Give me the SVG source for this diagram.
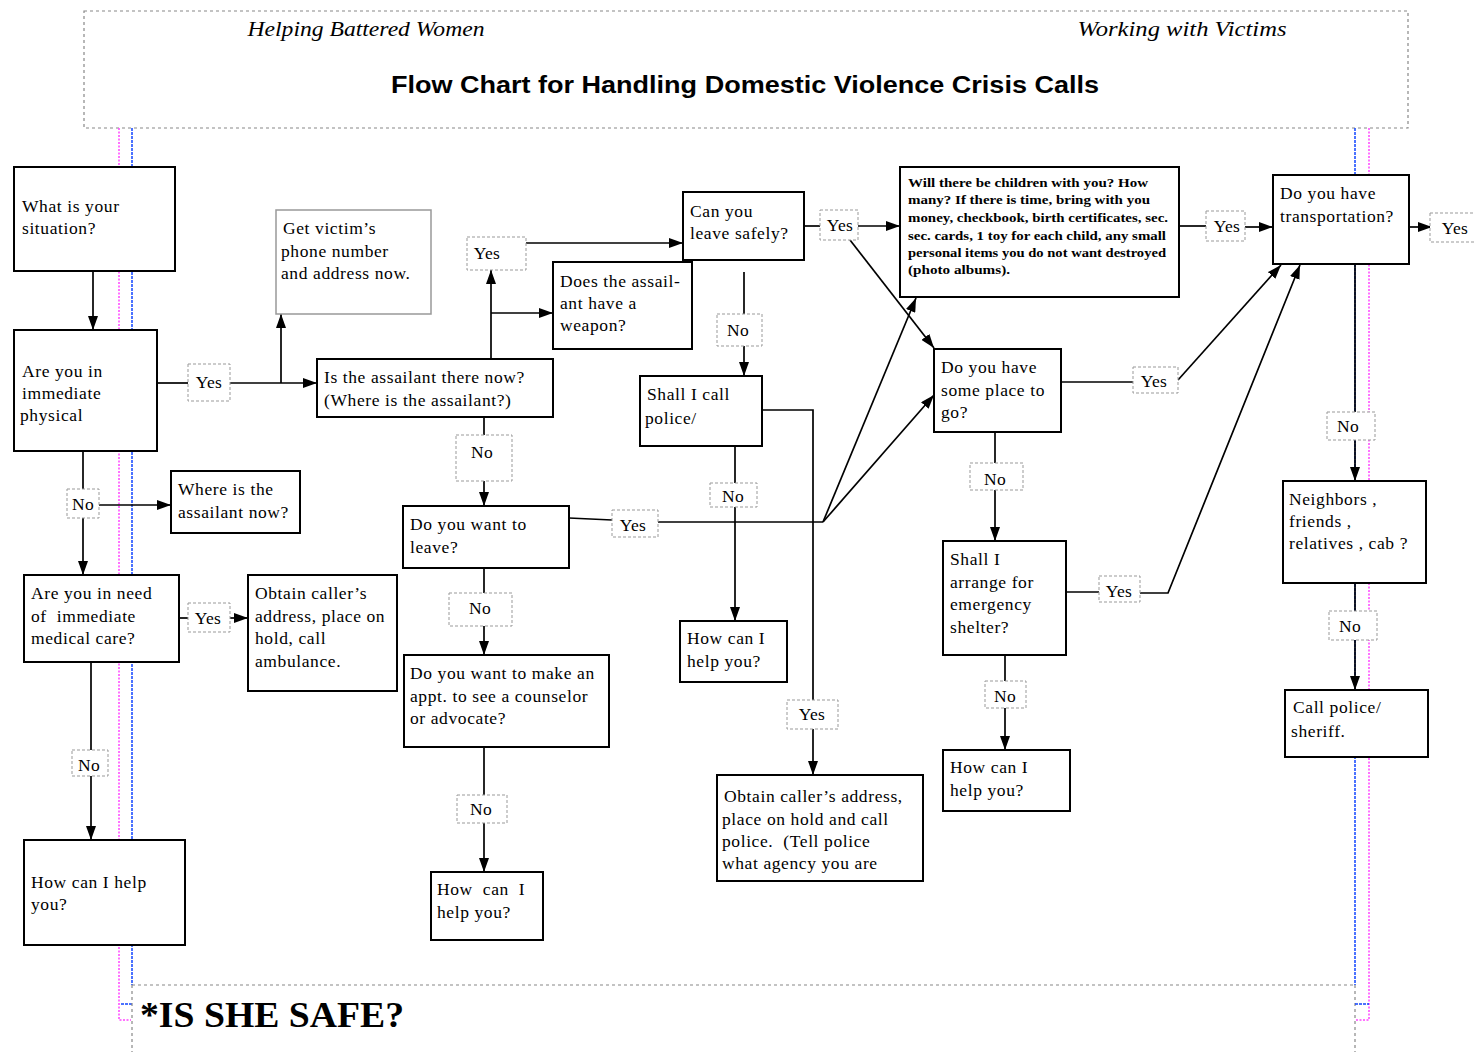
<svg xmlns="http://www.w3.org/2000/svg" width="1475" height="1052" viewBox="0 0 1475 1052">
<defs>
<marker id="ah" viewBox="0 0 14 10" refX="14" refY="5" markerWidth="14" markerHeight="10" markerUnits="userSpaceOnUse" orient="auto">
<path d="M0,0 L14,5 L0,10 Z" fill="#000"/>
</marker>
<style>
.bx{fill:#fff;stroke:#000;stroke-width:2}
.gb{fill:#fff;stroke:#999;stroke-width:1.5}
.lb{fill:#fff;stroke:#999;stroke-width:1;stroke-dasharray:3,2}
.t{font-family:"Liberation Serif","Times New Roman",serif;font-size:17.5px;letter-spacing:0.6px;fill:#000}
.lt{font-family:"Liberation Serif","Times New Roman",serif;font-size:17.5px;letter-spacing:0.3px;fill:#000;text-anchor:middle}
.sm{font-family:"Liberation Serif","Times New Roman",serif;font-size:11.5px;font-weight:bold;fill:#000}
.c path{fill:none;stroke:#000;stroke-width:1.7}
.a{marker-end:url(#ah)}
.mg{stroke:#ff44ff;stroke-width:1.5;stroke-dasharray:2,1.5;fill:none}
.bl{stroke:#1144ff;stroke-width:1.5;stroke-dasharray:3,1;fill:none}
.gd{stroke:#888;stroke-width:1.2;stroke-dasharray:3,3;fill:none}
</style>
</defs>
<rect width="1475" height="1052" fill="#fff"/>

<!-- page guides -->
<g id="guides">
<rect x="84" y="11" width="1324" height="117" class="gd"/>
<path class="mg" d="M119,128 V1020 H131"/>
<path class="bl" d="M132,128 V985"/>
<path class="bl" d="M121,1004 H132"/>
<path class="gd" d="M132,985 V1052 M132,985 H1355 M1355,985 V1052"/>
<path class="bl" d="M1355,128 V985"/>
<path class="mg" d="M1369,128 V1020 H1356"/>
<path class="bl" d="M1355,1004 H1369"/>
</g>

<g id="header">
<text x="366" y="36" font-family="'Liberation Serif',serif" font-style="italic" font-size="21" text-anchor="middle" textLength="237" lengthAdjust="spacingAndGlyphs">Helping Battered Women</text>
<text x="1182" y="36" font-family="'Liberation Serif',serif" font-style="italic" font-size="21" text-anchor="middle" textLength="209" lengthAdjust="spacingAndGlyphs">Working with Victims</text>
<text x="745" y="93" font-family="'Liberation Sans',Arial,sans-serif" font-weight="bold" font-size="23" text-anchor="middle" textLength="708" lengthAdjust="spacingAndGlyphs">Flow Chart for Handling Domestic Violence Crisis Calls</text>
</g>

<g id="connectors" class="c">
<path class="a" d="M93,271 V330"/>
<path d="M157,383 H188"/>
<path class="a" d="M230,383 H317"/>
<path class="a" d="M281,383 V314"/>
<path class="a" d="M491,359 V270"/>
<path class="a" d="M491,313 H553"/>
<path class="a" d="M526,243 H683"/>
<path d="M744,272 V314"/>
<path class="a" d="M744,346 V376"/>
<path d="M762,410 H813 V700"/>
<path class="a" d="M813,729 V775"/>
<path d="M735,446 V483"/>
<path class="a" d="M735,507 V621"/>
<path d="M804,226 H820"/>
<path class="a" d="M858,226 H900"/>
<path class="a" d="M850,240 L934,348"/>
<path d="M1179,226 H1206"/>
<path class="a" d="M1245,227 H1273"/>
<path class="a" d="M1409,227 H1432"/>
<path d="M1061,382 H1133"/>
<path class="a" d="M1178,380 L1281,265"/>
<path d="M995,432 V463"/>
<path class="a" d="M995,490 V541"/>
<path d="M1066,592 H1099"/>
<path class="a" d="M1140,593 H1168 L1300,265"/>
<path d="M1005,655 V681"/>
<path class="a" d="M1005,708 V750"/>
<path d="M484,417 V435"/>
<path class="a" d="M484,481 V506"/>
<path d="M569,518 L612,520"/>
<path d="M658,522 H823"/>
<path class="a" d="M823,522 L916,298"/>
<path class="a" d="M823,522 L934,395"/>
<path d="M484,568 V593"/>
<path class="a" d="M484,626 V655"/>
<path d="M484,747 V795"/>
<path class="a" d="M484,823 V872"/>
<path d="M83,451 V489"/>
<path class="a" d="M99,505 H171"/>
<path class="a" d="M83,518 V575"/>
<path d="M179,618 H188"/>
<path class="a" d="M230,618 H248"/>
<path d="M91,662 V750"/>
<path class="a" d="M91,776 V840"/>
<path d="M1355,264 V412"/>
<path class="a" d="M1355,440 V481"/>
<path d="M1355,583 V611"/>
<path class="a" d="M1355,640 V690"/>
</g>

<g id="labels">
<g id="y1"><rect class="lb" x="188" y="364" width="42" height="37"/><text class="lt" x="209" y="388">Yes</text></g>
<g id="y2"><rect class="lb" x="467" y="237" width="59" height="33"/><text class="lt" x="487" y="259">Yes</text></g>
<g id="y3"><rect class="lb" x="820" y="210" width="38" height="30"/><text class="lt" x="840" y="231">Yes</text></g>
<g id="y4"><rect class="lb" x="1206" y="211" width="39" height="30"/><text class="lt" x="1227" y="232">Yes</text></g>
<g id="y5"><rect class="lb" x="1430" y="213" width="50" height="29"/><text class="lt" x="1455" y="234">Yes</text></g>
<g id="y6"><rect class="lb" x="1133" y="367" width="45" height="26"/><text class="lt" x="1154" y="387">Yes</text></g>
<g id="y7"><rect class="lb" x="1099" y="576" width="41" height="26"/><text class="lt" x="1119" y="597">Yes</text></g>
<g id="y8"><rect class="lb" x="612" y="510" width="46" height="27"/><text class="lt" x="633" y="531">Yes</text></g>
<g id="y9"><rect class="lb" x="787" y="700" width="51" height="29"/><text class="lt" x="812" y="720">Yes</text></g>
<g id="y10"><rect class="lb" x="188" y="603" width="42" height="29"/><text class="lt" x="208" y="624">Yes</text></g>
<g id="n1"><rect class="lb" x="717" y="314" width="45" height="32"/><text class="lt" x="738" y="336">No</text></g>
<g id="n2"><rect class="lb" x="710" y="483" width="47" height="24"/><text class="lt" x="733" y="502">No</text></g>
<g id="n3"><rect class="lb" x="456" y="435" width="56" height="46"/><text class="lt" x="482" y="458">No</text></g>
<g id="n4"><rect class="lb" x="449" y="593" width="63" height="33"/><text class="lt" x="480" y="614">No</text></g>
<g id="n5"><rect class="lb" x="457" y="795" width="50" height="28"/><text class="lt" x="481" y="815">No</text></g>
<g id="n6"><rect class="lb" x="67" y="489" width="32" height="29"/><text class="lt" x="83" y="510">No</text></g>
<g id="n7"><rect class="lb" x="72" y="750" width="36" height="26"/><text class="lt" x="89" y="771">No</text></g>
<g id="n8"><rect class="lb" x="970" y="463" width="53" height="27"/><text class="lt" x="995" y="485">No</text></g>
<g id="n9"><rect class="lb" x="985" y="681" width="41" height="27"/><text class="lt" x="1005" y="702">No</text></g>
<g id="n10"><rect class="lb" x="1327" y="412" width="48" height="28"/><text class="lt" x="1348" y="432">No</text></g>
<g id="n11"><rect class="lb" x="1329" y="611" width="48" height="29"/><text class="lt" x="1350" y="632">No</text></g>
</g>

<g id="situation"><rect class="bx" x="14" y="167" width="161" height="104"/>
<text class="t" x="22" y="212">What is your</text><text class="t" x="22" y="234">situation?</text></g>

<g id="physical"><rect class="bx" x="14" y="330" width="143" height="121"/>
<text class="t" x="22" y="377">Are you in</text><text class="t" x="22" y="399">immediate</text><text class="t" x="20" y="421">physical</text></g>

<g id="getphone"><rect class="gb" x="276" y="210" width="155" height="104"/>
<text class="t" x="283" y="234">Get victim’s</text><text class="t" x="281" y="257">phone number</text><text class="t" x="281" y="279">and address now.</text></g>

<g id="assailantthere"><rect class="bx" x="317" y="359" width="236" height="58"/>
<text class="t" x="324" y="383">Is the assailant there now?</text><text class="t" x="324" y="406">(Where is the assailant?)</text></g>

<g id="weapon"><rect class="bx" x="553" y="262" width="139" height="87"/>
<text class="t" x="560" y="287">Does the assail-</text><text class="t" x="560" y="309">ant have a</text><text class="t" x="560" y="331">weapon?</text></g>

<g id="leavesafely"><rect class="bx" x="683" y="192" width="121" height="68"/>
<text class="t" x="690" y="217">Can you</text><text class="t" x="690" y="239">leave safely?</text></g>

<g id="callpolice"><rect class="bx" x="640" y="376" width="122" height="70"/>
<text class="t" x="647" y="400">Shall I call</text><text class="t" x="645" y="424">police/</text></g>

<g id="children"><rect class="bx" x="900" y="167" width="279" height="130"/>
<text class="sm" x="908" y="187" textLength="240" lengthAdjust="spacingAndGlyphs">Will there be children with you?  How</text>
<text class="sm" x="908" y="204" textLength="242" lengthAdjust="spacingAndGlyphs">many?  If there is time, bring with you</text>
<text class="sm" x="908" y="222" textLength="260" lengthAdjust="spacingAndGlyphs">money, checkbook, birth certificates, sec.</text>
<text class="sm" x="908" y="240" textLength="258" lengthAdjust="spacingAndGlyphs">sec. cards, 1 toy for each child, any small</text>
<text class="sm" x="908" y="257" textLength="258" lengthAdjust="spacingAndGlyphs">personal items you do not want destroyed</text>
<text class="sm" x="908" y="274" textLength="102" lengthAdjust="spacingAndGlyphs">(photo albums).</text></g>

<g id="transport"><rect class="bx" x="1273" y="175" width="136" height="89"/>
<text class="t" x="1280" y="199">Do you have</text><text class="t" x="1280" y="222">transportation?</text></g>

<g id="someplace"><rect class="bx" x="934" y="349" width="127" height="83"/>
<text class="t" x="941" y="373">Do you have</text><text class="t" x="941" y="396">some place to</text><text class="t" x="941" y="418">go?</text></g>

<g id="shelter"><rect class="bx" x="943" y="541" width="123" height="114"/>
<text class="t" x="950" y="565">Shall I</text><text class="t" x="950" y="588">arrange for</text><text class="t" x="950" y="610">emergency</text><text class="t" x="950" y="633">shelter?</text></g>

<g id="help4"><rect class="bx" x="943" y="750" width="127" height="61"/>
<text class="t" x="950" y="773">How can I</text><text class="t" x="950" y="796">help you?</text></g>

<g id="neighbors"><rect class="bx" x="1283" y="481" width="143" height="102"/>
<text class="t" x="1289" y="505">Neighbors ,</text><text class="t" x="1289" y="527">friends ,</text><text class="t" x="1289" y="549">relatives , cab ?</text></g>

<g id="sheriff"><rect class="bx" x="1285" y="690" width="143" height="67"/>
<text class="t" x="1293" y="713">Call police/</text><text class="t" x="1291" y="737">sheriff.</text></g>

<g id="wantleave"><rect class="bx" x="403" y="506" width="166" height="62"/>
<text class="t" x="410" y="530">Do you want to</text><text class="t" x="410" y="553">leave?</text></g>

<g id="appt"><rect class="bx" x="404" y="655" width="205" height="92"/>
<text class="t" x="410" y="679">Do you want to make an</text><text class="t" x="410" y="702">appt. to see a counselor</text><text class="t" x="410" y="724">or advocate?</text></g>

<g id="help2"><rect class="bx" x="680" y="621" width="107" height="61"/>
<text class="t" x="687" y="644">How can I</text><text class="t" x="687" y="667">help you?</text></g>

<g id="help3"><rect class="bx" x="431" y="872" width="112" height="68"/>
<text class="t" x="437" y="895" xml:space="preserve">How  can  I</text><text class="t" x="437" y="918">help you?</text></g>

<g id="help1"><rect class="bx" x="24" y="840" width="161" height="105"/>
<text class="t" x="31" y="888">How can I help</text><text class="t" x="31" y="910">you?</text></g>

<g id="policeaddr"><rect class="bx" x="717" y="775" width="206" height="106"/>
<text class="t" x="724" y="802">Obtain caller’s address,</text><text class="t" x="722" y="825">place on hold and call</text><text class="t" x="722" y="847" xml:space="preserve">police.  (Tell police</text><text class="t" x="722" y="869">what agency you are</text></g>

<g id="whereassailant"><rect class="bx" x="171" y="471" width="129" height="62"/>
<text class="t" x="178" y="495">Where is the</text><text class="t" x="178" y="518">assailant now?</text></g>

<g id="medical"><rect class="bx" x="24" y="575" width="155" height="87"/>
<text class="t" x="31" y="599">Are you in need</text><text class="t" x="31" y="622" xml:space="preserve">of  immediate</text><text class="t" x="31" y="644">medical care?</text></g>

<g id="ambulance"><rect class="bx" x="248" y="575" width="149" height="116"/>
<text class="t" x="255" y="599">Obtain caller’s</text><text class="t" x="255" y="622">address, place on</text><text class="t" x="255" y="644">hold, call</text><text class="t" x="255" y="667">ambulance.</text></g>

<g id="footer">
<text x="140" y="1027" font-family="'Liberation Serif','Times New Roman',serif" font-weight="bold" font-size="35" textLength="264" lengthAdjust="spacingAndGlyphs">*IS SHE SAFE?</text>
</g>
</svg>
